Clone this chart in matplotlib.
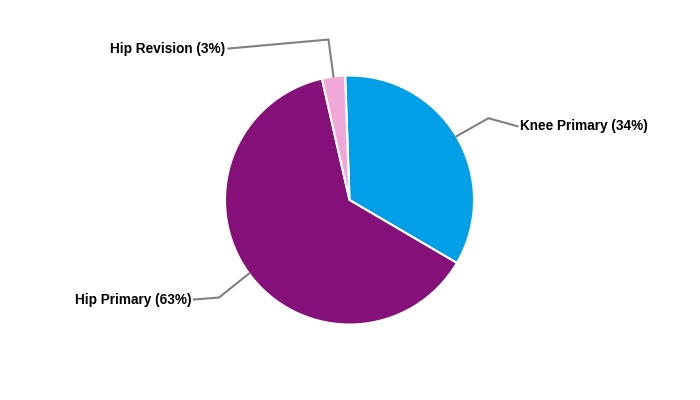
import numpy as np
import matplotlib.pyplot as plt

plt.rcParams['font.family'] = ['Liberation Sans', 'DejaVu Sans']

labels = ['Knee Primary', 'Hip Primary', 'Hip Revision']
values = [34, 63, 3]
colors = ['#009FE8', '#85107A', '#F0A8D8']

# layout in pixel units (figure is 700x400)
cx, cy, radius = 349.5, 200, 124.5
start = 92
# elbow / text offsets relative to the anchor on the pie edge
elbows = [(32, 18), (-30, -24), (-5, 37)]
texts = [(61, 10), (-55, -26), (-105, 28)]
aligns = ['left', 'right', 'right']

fig = plt.figure(figsize=(7, 4), dpi=100)
ax = fig.add_axes([0, 0, 1, 1])

wedges, _ = ax.pie(values, colors=colors, startangle=start, counterclock=False,
                   center=(cx, cy), radius=radius,
                   wedgeprops=dict(edgecolor='white', linewidth=1.5))

for w, lab, v, el, tx, ha in zip(wedges, labels, values, elbows, texts, aligns):
    mid = np.deg2rad((w.theta1 + w.theta2) / 2)
    x0 = cx + radius * np.cos(mid)
    y0 = cy + radius * np.sin(mid)
    x1, y1 = x0 + el[0], y0 + el[1]
    x2, y2 = x0 + tx[0], y0 + tx[1]
    ax.plot([x0, x1, x2], [y0, y1, y2], color='#808080', lw=1.5, solid_joinstyle='miter')
    off = 3 if ha == 'left' else -3
    ax.text(x2 + off, y2, f'{lab} ({v}%)', ha=ha, va='center',
            fontsize=9.8, fontweight='bold', color='black')

ax.set_xlim(0, 700)
ax.set_ylim(0, 400)
ax.set_aspect('equal')
ax.axis('off')

fig.savefig('out.png', dpi=100)
